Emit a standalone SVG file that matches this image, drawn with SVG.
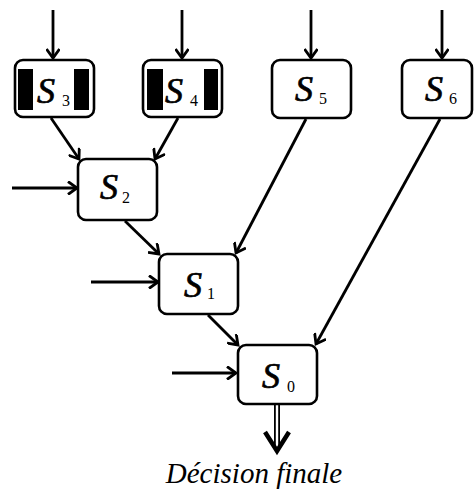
<svg xmlns="http://www.w3.org/2000/svg" width="474" height="494" viewBox="0 0 474 494">
<defs>
<marker id="ah" markerWidth="14" markerHeight="14" refX="10" refY="7" orient="auto" markerUnits="userSpaceOnUse">
<path d="M1,0.5 L10,7 L1,13.5" fill="none" stroke="#000" stroke-width="2.8"/>
</marker>
</defs>
<style>
.box{fill:#fff;stroke:#000;stroke-width:2.6}
.bar{fill:#000}
.c{fill:none;stroke:#000;stroke-width:2.8;marker-end:url(#ah)}
.s{font-family:"Liberation Serif","Times New Roman",serif;font-style:italic;font-size:36px;stroke:#000;stroke-width:0.7}
.n{font-family:"Liberation Serif","Times New Roman",serif;font-size:16px}
.cap{font-family:"Liberation Serif","Times New Roman",serif;font-style:italic;font-size:29px;text-anchor:middle}
</style>
<rect width="474" height="494" fill="#fff"/>
<g id="connectors">
<line class="c" x1="53" y1="10" x2="53" y2="58"/>
<line class="c" x1="182" y1="10" x2="182" y2="58"/>
<line class="c" x1="311" y1="10" x2="311" y2="58"/>
<line class="c" x1="442" y1="10" x2="442" y2="58"/>
<line class="c" x1="51" y1="118" x2="79" y2="159"/>
<line class="c" x1="178" y1="118" x2="155" y2="159"/>
<line class="c" x1="12" y1="188" x2="77" y2="188"/>
<line class="c" x1="306" y1="119" x2="236" y2="253"/>
<line class="c" x1="125" y1="221" x2="159" y2="254"/>
<line class="c" x1="91" y1="282" x2="158" y2="282"/>
<line class="c" x1="208" y1="315" x2="238" y2="345"/>
<line class="c" x1="440" y1="119" x2="316" y2="344"/>
<line class="c" x1="172" y1="373" x2="236" y2="373"/>
<line x1="277" y1="405" x2="277" y2="447" stroke="#000" stroke-width="6"/>
<line x1="277" y1="405" x2="277" y2="447" stroke="#fff" stroke-width="2.4"/>
<polyline points="265,432 277,451 289,432" fill="none" stroke="#000" stroke-width="4.5"/>
</g>
<g id="S3">
<rect class="box" x="15" y="60" width="79" height="57" rx="8"/>
<rect class="bar" x="18" y="69" width="15" height="41"/>
<rect class="bar" x="74" y="69" width="15" height="41"/>
<text class="s" x="37" y="103">S</text><text class="n" x="62" y="106">3</text>
</g>
<g id="S4">
<rect class="box" x="143" y="60" width="79" height="57" rx="8"/>
<rect class="bar" x="147" y="69" width="16" height="41"/>
<rect class="bar" x="204" y="69" width="14" height="41"/>
<text class="s" x="165" y="103">S</text><text class="n" x="190" y="106">4</text>
</g>
<g id="S5">
<rect class="box" x="272" y="60" width="79" height="58" rx="8"/>
<text class="s" x="295" y="101">S</text><text class="n" x="319" y="104">5</text>
</g>
<g id="S6">
<rect class="box" x="402" y="60" width="70" height="58" rx="8"/>
<text class="s" x="425" y="101">S</text><text class="n" x="449" y="104">6</text>
</g>
<g id="S2">
<rect class="box" x="78" y="159" width="79" height="61" rx="8"/>
<text class="s" x="100" y="199">S</text><text class="n" x="122" y="203">2</text>
</g>
<g id="S1">
<rect class="box" x="159" y="254" width="79" height="60" rx="8"/>
<text class="s" x="184" y="297">S</text><text class="n" x="207" y="299">1</text>
</g>
<g id="S0">
<rect class="box" x="238" y="345" width="79" height="59" rx="8"/>
<text class="s" x="262" y="388">S</text><text class="n" x="287" y="392">0</text>
</g>
<g id="caption">
<text class="cap" x="254" y="483">Décision finale</text>
</g>
</svg>
